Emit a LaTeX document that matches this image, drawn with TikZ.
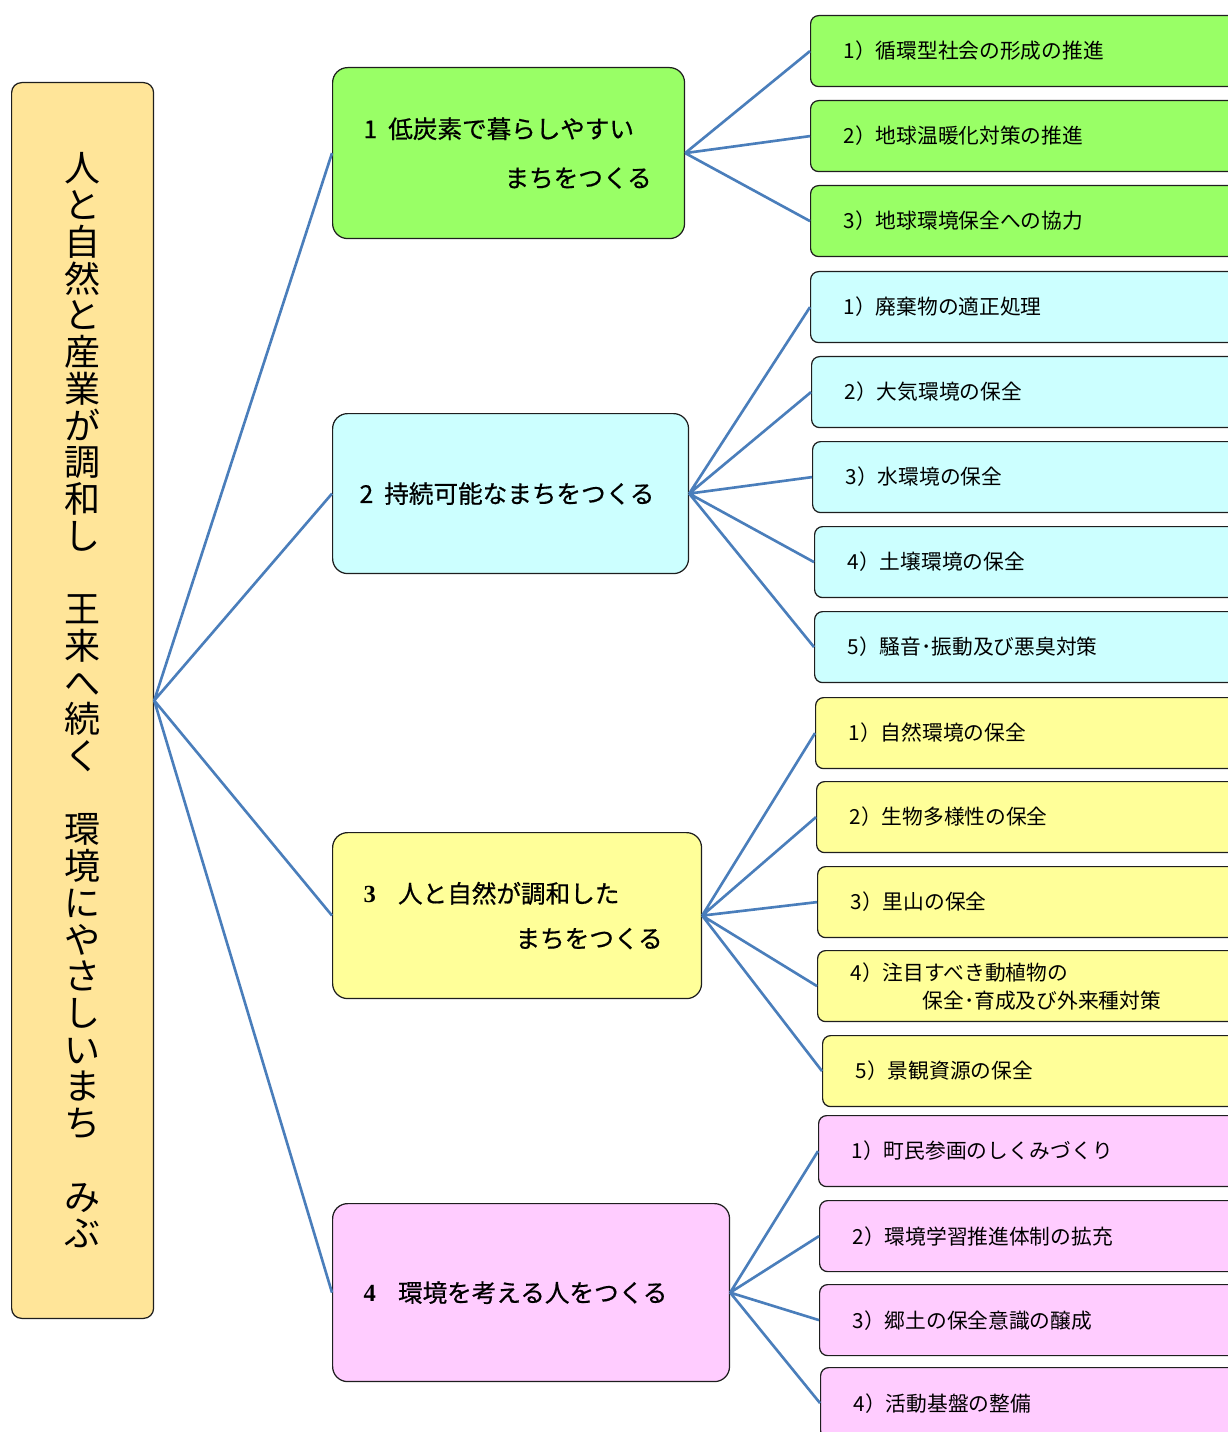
\documentclass[tikz,border=0pt]{standalone}
\usepackage{fontspec}
\setmainfont{Noto Sans CJK JP}
\newfontfamily\numfont{Liberation Serif}
\newfontfamily\goalfont[FakeBold=0.6]{Noto Sans CJK JP}
\usetikzlibrary{positioning}

\definecolor{rootfill}{RGB}{255,229,153}
\definecolor{greenfill}{RGB}{153,255,102}
\definecolor{cyanfill}{RGB}{204,255,255}
\definecolor{yellowfill}{RGB}{255,255,153}
\definecolor{pinkfill}{RGB}{255,204,255}
\definecolor{linkblue}{RGB}{74,126,187}
\definecolor{boxline}{RGB}{30,30,30}

\tikzset{
	rootbox/.style={draw=boxline, line width=0.7pt, fill=rootfill, rounded corners=0.2cm,
		anchor=north west, minimum width=2.84cm, minimum height=24.72cm, inner sep=0pt,
		align=center, font=\fontsize{20.5}{20.9}\selectfont},
	mainbox/.style={draw=boxline, line width=0.7pt, fill=#1, rounded corners=0.3cm,
		anchor=north west, inner xsep=0.62cm, inner ysep=0pt, align=left},
	subbox/.style={draw=boxline, line width=0.7pt, fill=#1, rounded corners=0.16cm,
		anchor=north west, minimum width=9cm, minimum height=1.42cm, text width=7.68cm,
		inner xsep=0.66cm, inner ysep=0pt, align=left, font=\fontsize{11.8}{16}\selectfont},
	link/.style={draw=linkblue, line width=1.5pt}
}

\begin{document}
\begin{tikzpicture}[x=0.02cm, y=-0.02cm]
	\useasboundingbox (0,0) rectangle (1227,1432);
	% theme
	\node[rootbox] (root) at (11,82) {人\\と\\自\\然\\と\\産\\業\\が\\調\\和\\し\\\mbox{}\\王\\来\\へ\\続\\く\\\mbox{}\\環\\境\\に\\や\\さ\\し\\い\\ま\\ち\\\mbox{}\\み\\ぶ};
	% goals
	\node[mainbox=greenfill, minimum height=3.42cm, text width=5.8cm,
		font=\goalfont\fontsize{14}{27.9}\selectfont] (m1) at (332,67)
		{1\hspace{0.45em}低炭素で暮らしやすい\\\hspace*{2.82cm}まちをつくる};
	\node[mainbox=cyanfill, minimum height=3.2cm, text width=6.04cm, inner xsep=0.54cm,
		font=\goalfont\fontsize{14}{27.9}\selectfont] (m2) at (332,413)
		{2\hspace{0.45em}持続可能なまちをつくる};
	\node[mainbox=yellowfill, minimum height=3.32cm, text width=6.14cm,
		font=\goalfont\fontsize{14}{25.6}\selectfont] (m3) at (332,832)
		{{\numfont\bfseries 3}\hspace{0.9em}人と自然が調和した\\\hspace*{3.04cm}まちをつくる};
	\node[mainbox=pinkfill, minimum height=3.56cm, text width=6.7cm,
		font=\goalfont\fontsize{14}{27.9}\selectfont] (m4) at (332,1203)
		{{\numfont\bfseries 4}\hspace{0.9em}環境を考える人をつくる};
	% measures
	\node[subbox=greenfill] (g1) at (810,15) {1）循環型社会の形成の推進};
	\node[subbox=greenfill] (g2) at (810,100) {2）地球温暖化対策の推進};
	\node[subbox=greenfill] (g3) at (810,185) {3）地球環境保全への協力};
	\node[subbox=cyanfill] (c1) at (810,271) {1）廃棄物の適正処理};
	\node[subbox=cyanfill] (c2) at (811,356) {2）大気環境の保全};
	\node[subbox=cyanfill] (c3) at (812,441) {3）水環境の保全};
	\node[subbox=cyanfill] (c4) at (814,526) {4）土壌環境の保全};
	\node[subbox=cyanfill] (c5) at (814,611) {5）騒音･振動及び悪臭対策};
	\node[subbox=yellowfill] (y1) at (815,697) {1）自然環境の保全};
	\node[subbox=yellowfill] (y2) at (816,781) {2）生物多様性の保全};
	\node[subbox=yellowfill] (y3) at (817,866) {3）里山の保全};
	\node[subbox=yellowfill] (y4) at (817,950) {4）注目すべき動植物の\\\hspace*{1.44cm}保全･育成及び外来種対策};
	\node[subbox=yellowfill] (y5) at (822,1035) {5）景観資源の保全};
	\node[subbox=pinkfill] (p1) at (818,1115) {1）町民参画のしくみづくり};
	\node[subbox=pinkfill] (p2) at (819,1200) {2）環境学習推進体制の拡充};
	\node[subbox=pinkfill] (p3) at (819,1284) {3）郷土の保全意識の醸成};
	\node[subbox=pinkfill] (p4) at (820,1367) {4）活動基盤の整備};
	% links
	\draw[link] (root.east) -- (m1.west) (root.east) -- (m2.west)
		(root.east) -- (m3.west) (root.east) -- (m4.west);
	\draw[link] (m1.east) -- (g1.west) (m1.east) -- (g2.west) (m1.east) -- (g3.west);
	\draw[link] (m2.east) -- (c1.west) (m2.east) -- (c2.west) (m2.east) -- (c3.west)
		(m2.east) -- (c4.west) (m2.east) -- (c5.west);
	\draw[link] (m3.east) -- (y1.west) (m3.east) -- (y2.west) (m3.east) -- (y3.west)
		(m3.east) -- (y4.west) (m3.east) -- (y5.west);
	\draw[link] (m4.east) -- (p1.west) (m4.east) -- (p2.west) (m4.east) -- (p3.west)
		(m4.east) -- (p4.west);
\end{tikzpicture}
\end{document}
